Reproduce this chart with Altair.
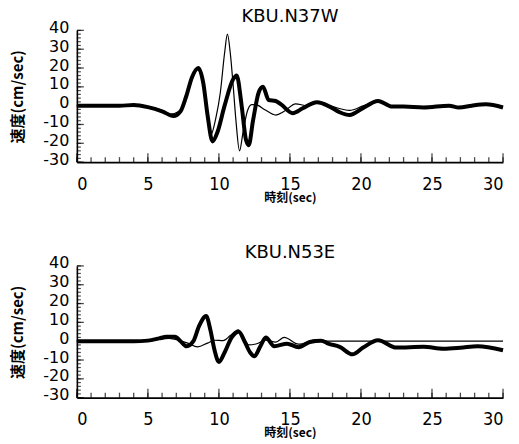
import altair as alt
import pandas as pd

# ---- data ----
n37w_thick_t = [0, 3, 4, 5, 6, 6.8, 7.3, 7.7, 8.1, 8.55, 8.9, 9.2, 9.55, 9.9, 10.4, 11.0, 11.25, 11.6, 11.9, 12.1, 12.4, 12.8, 13.1, 13.5, 14.0, 14.4, 15.2, 15.9, 16.9, 17.8, 18.5, 19.2, 20.1, 21.2, 22.2, 23.0, 24.4, 26.2, 26.9, 27.8, 28.8, 30]
n37w_thick_v = [0, 0, 0.3, -0.8, -3, -5.5, -3, 5, 15, 20, 12, -5, -19, -14, 0, 14, 16, 0, -18, -21, -8, 7, 10, 3, 2.5, 0.5, -4, -1.4, 1.8, -0.5, -3.5, -5, -1.5, 2.5, -0.5, -0.5, -1, 0, -1, 0, 0.7, -1]
n37w_thin_t = [0, 3, 4, 5, 6, 6.6, 7.2, 7.6, 8.1, 8.5, 8.9, 9.15, 9.4, 9.8, 10.1, 10.4, 10.6, 10.8, 11.0, 11.2, 11.45, 11.7, 12.0, 12.3, 12.6, 13.2, 14.0, 14.6, 15.4, 16.2, 17.0, 18.0, 19.2, 20.2, 21.3, 22.3, 24.4, 26.2, 26.9, 28.8, 30]
n37w_thin_v = [0, 0, 0.3, -0.5, -2.5, -4.5, -3, 2, 14, 19, 10, -4, -16, -6, 7, 28, 38, 28, 11, -8, -24, -14, -3, 0.5, 0.5, -2, -5, -3, 1, 0, 1.5, -0.5, -2.5, 0, 2, -0.3, -1, 0, -0.8, 0.7, -1]

n53e_thick_t = [0, 4, 5, 5.8, 6.3, 6.9, 7.3, 7.73, 8.2, 8.6, 9.1, 9.4, 9.7, 10.0, 10.4, 10.9, 11.4, 11.8, 12.2, 12.5, 12.9, 13.3, 13.9, 14.8, 15.6, 16.4, 17.2, 17.7, 18.5, 19.4, 20.15, 21.2, 22.5, 24.4, 25.8, 27.0, 28.2, 30]
n53e_thick_v = [0, 0, 0.3, 1.5, 2.3, 2.3, 0, -2.7, 0, 8, 13.4, 6, -5, -11, -6, 2, 5, 0, -6, -8, -3, 2, -2.7, -1.3, -3.2, -0.4, 0.3, -1.3, -3, -7, -3.4, 0.5, -3.4, -3, -4, -3.5, -2.7, -4.8]
n53e_thin_t = [0, 5, 5.8, 6.5, 7.2, 7.8, 8.5, 9.2, 9.7, 10.3, 10.8, 11.35, 11.8, 12.1, 12.6, 13.3, 14.0, 14.6, 15.6, 16.9, 17.6, 30]
n53e_thin_v = [0, 0, 1, 1.5, 0.5, -1, -3, -1, 0.5, 0.3, 3, 6, 1, -2, -1.5, 0.5, -0.5, 2, -1.6, 0.8, 0, 0]

x_tick_labels = [0, 5, 10, 15, 20, 25, 30]
y_tick_labels = [-30, -20, -10, 0, 10, 20, 30, 40]
x_minor = list(range(0, 31))
x_major = list(range(0, 31, 5))
y_minor = list(range(-30, 41, 2))
y_major = list(range(-30, 41, 10))

W, H = 427, 132
FONT = "DejaVu Sans"

xax = alt.Axis(values=x_tick_labels, ticks=False, grid=False, title="時刻(sec)",
               labelFontSize=18, labelPadding=13, titleFontSize=12, titleFontWeight="bold",
               titlePadding=-1, domainColor="black", domainWidth=1.6, labelColor="black",
               titleColor="black", labelFont="DejaVu Sans Condensed", titleFont="Noto Sans CJK JP",
               labelExpr="'' + datum.value", labelOverlap=False)
yax = alt.Axis(values=y_tick_labels, ticks=False, grid=False, title="速度(cm/sec)",
               labelFontSize=16, labelPadding=8, labelOffset=-3, titleFontSize=15, titleFontWeight="bold",
               titlePadding=17, domainColor="black", domainWidth=1.6, labelColor="black",
               titleColor="black", labelFont=FONT, titleFont="Noto Sans CJK JP",
               labelOverlap=False, labelExpr="'' + datum.value")


def panel(title, tk_t, tk_v, tn_t, tn_v):
    thick = pd.DataFrame({"t": tk_t, "v": tk_v})
    thin = pd.DataFrame({"t": tn_t, "v": tn_v})
    xs = alt.Scale(domain=[0, 30], nice=False)
    ys = alt.Scale(domain=[-30, 40], nice=False)
    X = alt.X("t:Q", scale=xs, axis=xax)
    Y = alt.Y("v:Q", scale=ys, axis=yax)
    thin_l = alt.Chart(thin).mark_line(color="black", strokeWidth=1.2, interpolate="monotone").encode(x=X, y=Y)
    thick_l = alt.Chart(thick).mark_line(color="black", strokeWidth=4, interpolate="monotone").encode(x=X, y=Y)
    xminor = alt.Chart(pd.DataFrame({"t": x_minor})).mark_tick(color="black", thickness=1.3, size=5).encode(
        x=X, y=alt.value(H - 2.5))
    xmajor = alt.Chart(pd.DataFrame({"t": x_major})).mark_tick(color="black", thickness=1.3, size=9).encode(
        x=X, y=alt.value(H - 4.5))
    yminor = alt.Chart(pd.DataFrame({"v": y_minor})).mark_tick(color="black", thickness=1.2, size=4).encode(
        y=Y, x=alt.value(2))
    ymajor = alt.Chart(pd.DataFrame({"v": y_major})).mark_tick(color="black", thickness=1.3, size=7).encode(
        y=Y, x=alt.value(3.5))
    return alt.layer(thin_l, thick_l, xminor, xmajor, yminor, ymajor).properties(
        width=W, height=H,
        title=alt.TitleParams(title, fontSize=18, font=FONT, fontWeight="normal", color="black", offset=-7))


top = panel("KBU.N37W", n37w_thick_t, n37w_thick_v, n37w_thin_t, n37w_thin_v)
bottom = panel("KBU.N53E", n53e_thick_t, n53e_thick_v, n53e_thin_t, n53e_thin_v)

chart = alt.vconcat(top, bottom, spacing=41).properties(
    padding={"left": 2, "top": 0, "right": 0, "bottom": 0}).configure_view(stroke=None)
chart.save("out.html", embed_options={"renderer": "svg", "actions": False})
